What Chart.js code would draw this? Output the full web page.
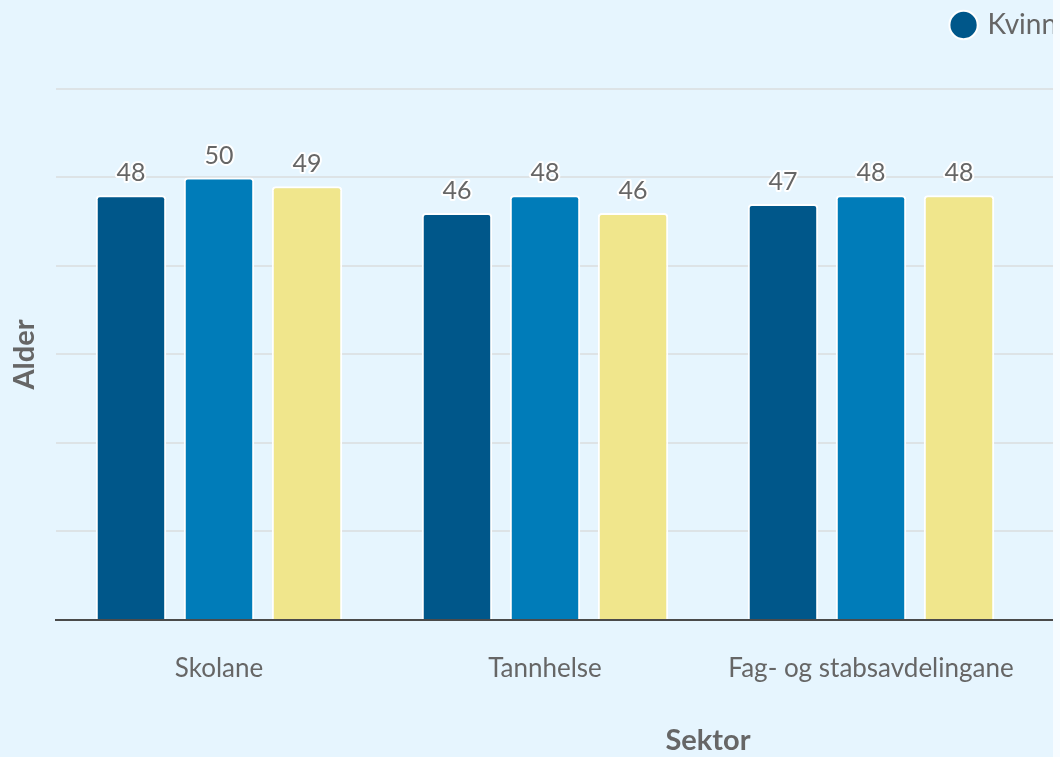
<!DOCTYPE html>
<html>
<head>
<meta charset="utf-8">
<script src="https://cdn.jsdelivr.net/npm/chart.js@4"></script>
<style>
  html, body { margin: 0; padding: 0; background: #f7fcff; }
  #wrap { width: 1053px; height: 757px; overflow: hidden; background: #e6f5fe; position: relative; }
  canvas { display: block; }
</style>
</head>
<body>
<div id="wrap"><canvas id="c" width="1380" height="757"></canvas></div>
<script>
// Categories (4th category lies outside the visible crop; its values are not visible)
const categories = ["Skolane", "Tannhelse", "Fag- og stabsavdelingane", "Totalt"];
const seriesNames = ["Kvinner", "Menn", "Totalt"];
const kvinner = [48, 46, 47, null];
const menn    = [50, 48, 48, null];
const totalt  = [49, 46, 48, null];
const yTicks  = [0, 10, 20, 30, 40, 50, 60];

const FONT = "Lato, 'Open Sans', sans-serif";
const TEXT = "#666666";

const valueLabels = {
  id: 'valueLabels',
  afterDatasetsDraw(chart) {
    const ctx = chart.ctx;
    ctx.save();
    ctx.font = "25px " + FONT;
    ctx.textAlign = 'center';
    ctx.textBaseline = 'middle';
    ctx.lineJoin = 'round';
    chart.data.datasets.forEach((ds, i) => {
      const meta = chart.getDatasetMeta(i);
      meta.data.forEach((bar, j) => {
        const v = ds.data[j];
        if (v === null || v === undefined) return;
        const y = bar.y - 22;
        ctx.strokeStyle = '#ffffff';
        ctx.lineWidth = 4;
        ctx.strokeText(String(v), bar.x, y);
        ctx.fillStyle = TEXT;
        ctx.fillText(String(v), bar.x, y);
      });
    });
    ctx.restore();
  }
};

const colors = ["#00578a", "#007cb9", "#f0e68c"];
const values = [kvinner, menn, totalt];

new Chart(document.getElementById('c'), {
  type: 'bar',
  data: {
    labels: categories,
    datasets: seriesNames.map((n, i) => ({
      label: n,
      data: values[i],
      backgroundColor: colors[i],
      borderColor: '#ffffff',
      borderWidth: 2,
      borderRadius: 4,
      categoryPercentage: 0.81,
      barPercentage: 0.8
    }))
  },
  options: {
    responsive: false,
    devicePixelRatio: 1,
    animation: false,
    layout: { padding: { top: -12, right: 20, left: 0, bottom: 0 } },
    plugins: {
      tooltip: { enabled: false },
      title: {
        display: true,
        text: '',
        weight: 500,
        font: { size: 10, lineHeight: 1 },
        padding: { top: 0, bottom: 30 }
      },
      legend: {
        position: 'top',
        align: 'end',
        labels: {
          usePointStyle: true,
          pointStyle: 'circle',
          boxWidth: 20,
          boxHeight: 20,
          padding: 23,
          color: TEXT,
          font: { family: FONT, size: 28 }
        }
      }
    },
    scales: {
      x: {
        grid: { display: false, drawTicks: false },
        border: { display: true, color: '#4a4a4a', width: 2 },
        ticks: { color: TEXT, font: { family: FONT, size: 26 }, padding: 33, maxRotation: 0 },
        title: { display: true, text: 'Sektor', color: TEXT, font: { family: FONT, size: 29, weight: 'bold', lineHeight: 1.1 }, padding: { top: 8, bottom: 0 } }
      },
      y: {
        min: yTicks[0],
        max: yTicks[yTicks.length - 1],
        afterBuildTicks(scale) { scale.ticks = yTicks.map(v => ({ value: v })); },
        afterFit(scale) { scale.width = 56; },
        grid: { color: '#dde3e6', lineWidth: 2, drawTicks: false },
        border: { display: false },
        ticks: { display: false },
        title: { display: true, text: 'Alder', color: TEXT, font: { family: FONT, size: 29, weight: 'bold', lineHeight: 1.1 }, padding: { top: 9, bottom: 0 } }
      }
    }
  },
  plugins: [valueLabels]
});
</script>
</body>
</html>
